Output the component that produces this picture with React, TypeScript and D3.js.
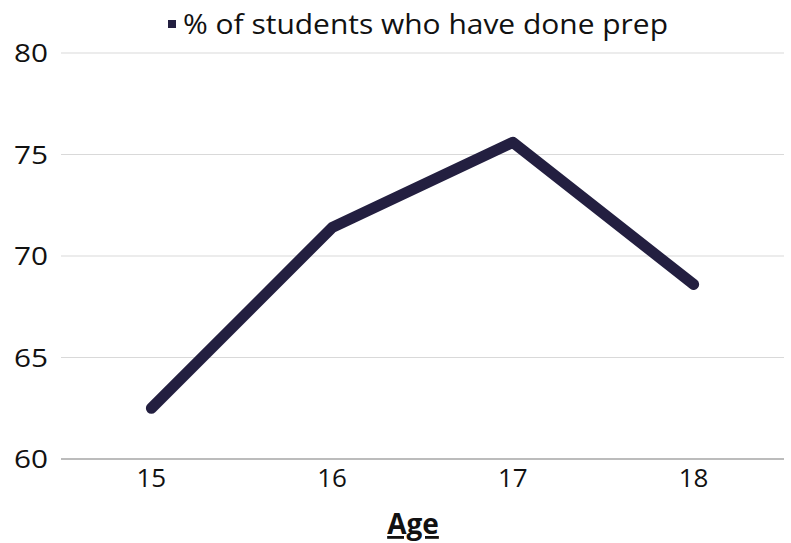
import React from "react";
import * as d3 from "d3";

const ages = ["15", "16", "17", "18"];
const prepShare = [62.5, 71.4, 75.6, 68.6];
const yTicks = [60, 65, 70, 75, 80];
const seriesName = "% of students who have done prep";
const axisTitle = "Age";

const W = 791;
const H = 543;
const margin = { left: 61, right: 7, top: 53, bottom: 84 };
const FONT = "'Open Sans', Lato, sans-serif";
const LINE_COLOR = "#231f40";

export default function App() {
  const x = d3
    .scaleBand<string>()
    .domain(ages)
    .range([margin.left, W - margin.right]);
  const y = d3
    .scaleLinear()
    .domain([60, 80])
    .range([H - margin.bottom, margin.top]);

  const line = d3
    .line<number>()
    .x((_, i) => (x(ages[i]) as number) + x.bandwidth() / 2)
    .y((d) => y(d));

  return (
    <svg
      width={W}
      height={H}
      style={{ position: "absolute", left: 0, top: 0, background: "#fff" }}
      fontFamily={FONT}
    >
      {/* horizontal gridlines */}
      {yTicks.map((t) => (
        <line
          key={t}
          x1={margin.left}
          x2={W - margin.right}
          y1={y(t)}
          y2={y(t)}
          stroke={t === 60 ? "#a6a6a6" : "#d9d9d9"}
          strokeWidth={t === 60 ? 1.5 : 1}
        />
      ))}
      {/* y tick labels */}
      {yTicks.map((t) => (
        <text
          key={"yl" + t}
          x={48}
          y={y(t)}
          dy="0.35em"
          textAnchor="end"
          fontSize={26}
          textLength={34}
          lengthAdjust="spacingAndGlyphs"
          fill="#111"
        >
          {t}
        </text>
      ))}
      {/* x tick labels */}
      {ages.map((a) => (
        <text
          key={"xl" + a}
          x={(x(a) as number) + x.bandwidth() / 2}
          y={487}
          textAnchor="middle"
          fontSize={26}
          fill="#111"
        >
          {a}
        </text>
      ))}
      {/* series line */}
      <path
        d={line(prepShare) ?? ""}
        fill="none"
        stroke={LINE_COLOR}
        strokeWidth={11}
        strokeLinecap="round"
        strokeLinejoin="round"
      />
      {/* legend */}
      <rect x={168} y={20} width={8} height={8} fill={LINE_COLOR} />
      <text x={183} y={34} fontSize={27} fill="#111" textLength={485} lengthAdjust="spacingAndGlyphs">
        {seriesName}
      </text>
      {/* axis title */}
      <text
        x={413}
        y={534}
        textAnchor="middle"
        fontSize={28}
        fontWeight="bold"
        fill="#111"
        textDecoration="underline"
      >
        {axisTitle}
      </text>
    </svg>
  );
}
